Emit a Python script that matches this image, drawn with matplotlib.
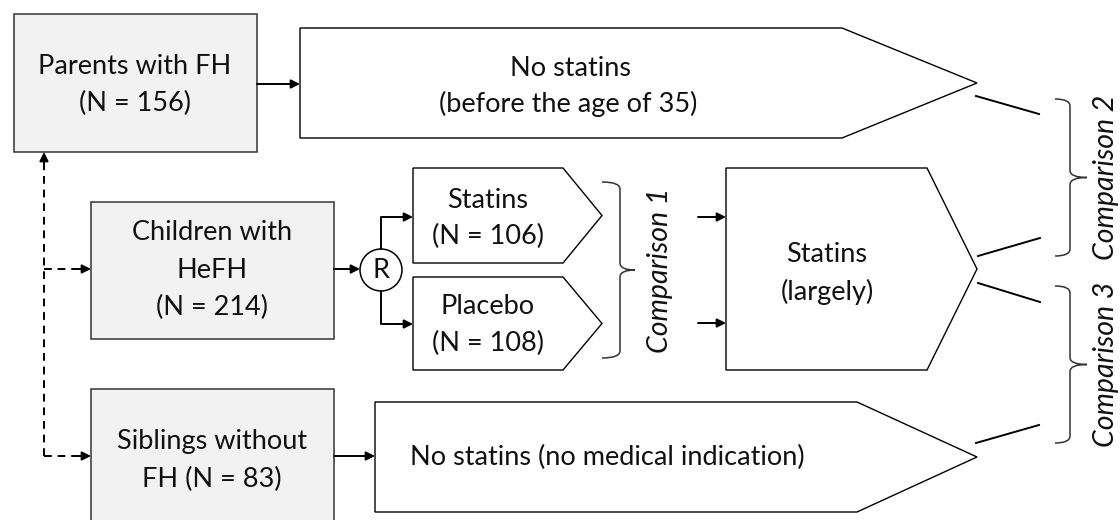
import matplotlib.pyplot as plt
from matplotlib.patches import Polygon, Rectangle, Circle, PathPatch
from matplotlib.path import Path

plt.rcParams['font.family'] = ['Lato', 'DejaVu Sans']

# groups and their sizes
groups = ["Parents with FH", "Children with", "HeFH", "Siblings without", "FH"]
group_n = [156, 214, 83]
arms = ["Statins", "Placebo"]
arm_n = [106, 108]
outcomes = ["No statins", "(before the age of 35)", "Statins", "(largely)",
            "No statins (no medical indication)"]
comparisons = ["Comparison 1", "Comparison 2", "Comparison 3"]

TXT = "#111111"
EDGE = "#333333"
FS = 19.5
FSC = 20.5

fig = plt.figure(figsize=(11.2, 5.2), dpi=100)
ax = fig.add_axes([0, 0, 1, 1])
ax.set_xlim(0, 1120)
ax.set_ylim(520, 0)
ax.axis("off")


def label(x, y, s, ha="center", **kw):
    ax.text(x, y, s, ha=ha, va="center", fontsize=kw.pop("fontsize", FS), color=TXT, **kw)


def gray_box(x0, y0, x1, y1):
    ax.add_patch(Rectangle((x0, y0), x1 - x0, y1 - y0, facecolor="#f2f2f2",
                           edgecolor=EDGE, lw=1.1))


def pentagon(x0, y0, x1, y1, xc, xt):
    ym = (y0 + y1) / 2
    ax.add_patch(Polygon([(x0, y0), (xc, y0), (xt, ym), (xc, y1), (x0, y1)],
                         closed=True, facecolor="white", edgecolor="black", lw=1.0))


def arrow(x0, y0, x1, y1):
    ax.annotate("", xy=(x1, y1), xytext=(x0, y0),
                arrowprops=dict(arrowstyle="-|>", color="black", lw=1.4,
                                mutation_scale=13, shrinkA=0, shrinkB=0))


def brace(x0, y0, y1, w=15, tip=16, r=7):
    ym = (y0 + y1) / 2
    xv = x0 + w
    verts = [(x0, y0), (xv, y0), (xv, y0 + r), (xv, ym - r), (xv, ym), (xv + tip, ym),
             (xv, ym), (xv, ym + r), (xv, y1 - r), (xv, y1), (x0, y1)]
    codes = [Path.MOVETO, Path.CURVE3, Path.CURVE3, Path.LINETO, Path.CURVE3, Path.CURVE3,
             Path.CURVE3, Path.CURVE3, Path.LINETO, Path.CURVE3, Path.CURVE3]
    ax.add_patch(PathPatch(Path(verts, codes), facecolor="none", edgecolor="#333333", lw=1.1))


# left column
gray_box(14, 14, 257, 152)
gray_box(91, 202, 334, 339)
gray_box(91, 389, 334, 530)
label(135, 66, groups[0])
label(135, 103, f"(N = {group_n[0]})")
label(212, 233, groups[1])
label(212, 270, groups[2])
label(212, 307, f"(N = {group_n[1]})")
label(212, 442, groups[3])
label(212, 479, f"{groups[4]} (N = {group_n[2]})")

# dashed family links
dash = dict(color="black", lw=1.4, ls=(0, (4, 3)))
ax.plot([44, 44], [456, 165], **dash)
arrow(44, 165, 44, 152)
ax.plot([44, 78], [269, 269], **dash)
arrow(78, 269, 91, 269)
ax.plot([44, 78], [456, 456], **dash)
arrow(78, 456, 91, 456)

# outcome shapes
pentagon(300, 28, 977, 138, 842, 977)
pentagon(413, 168, 602, 263, 563, 602)
pentagon(413, 277, 602, 370, 563, 602)
pentagon(726, 168, 977, 370, 927, 977)
pentagon(375, 402, 977, 512, 857, 977)

label(570, 69, outcomes[0])
label(568, 104, outcomes[1])
for i, yy in enumerate([200, 307]):
    label(488, yy, arms[i])
    label(488, yy + 36, f"(N = {arm_n[i]})")
label(827, 254, outcomes[2])
label(827, 292, outcomes[3])
label(410, 457, outcomes[4], ha="left")

# solid arrows
arrow(257, 84, 300, 84)
arrow(334, 456, 375, 456)
arrow(334, 269, 360, 269)
ax.add_patch(Circle((381, 270), 21, facecolor="white", edgecolor="black", lw=1.1))
label(381, 270, "R")
ax.plot([381, 381, 400], [249, 217, 217], color="black", lw=1.4)
arrow(399, 217, 413, 217)
ax.plot([381, 381, 400], [291, 324, 324], color="black", lw=1.4)
arrow(399, 324, 413, 324)
arrow(698, 217, 726, 217)
arrow(698, 323, 726, 323)

# comparison brackets
brace(602, 182, 358, w=18, tip=15)
brace(1055, 99, 256, w=15, tip=17)
brace(1055, 286, 443, w=15, tip=17)
for x0, y0, x1, y1 in [(976, 96, 1039, 114), (978, 256, 1040, 238),
                       (978, 283, 1040, 302), (976, 443, 1039, 425)]:
    ax.plot([x0, x1], [y0, y1], color="black", lw=1.4)

label(660, 270, comparisons[0], rotation=90, fontsize=FSC, style="italic")
label(1106, 177, comparisons[1], rotation=90, fontsize=FSC, style="italic")
label(1106, 364, comparisons[2], rotation=90, fontsize=FSC, style="italic")

fig.savefig("out.png", dpi=100)
